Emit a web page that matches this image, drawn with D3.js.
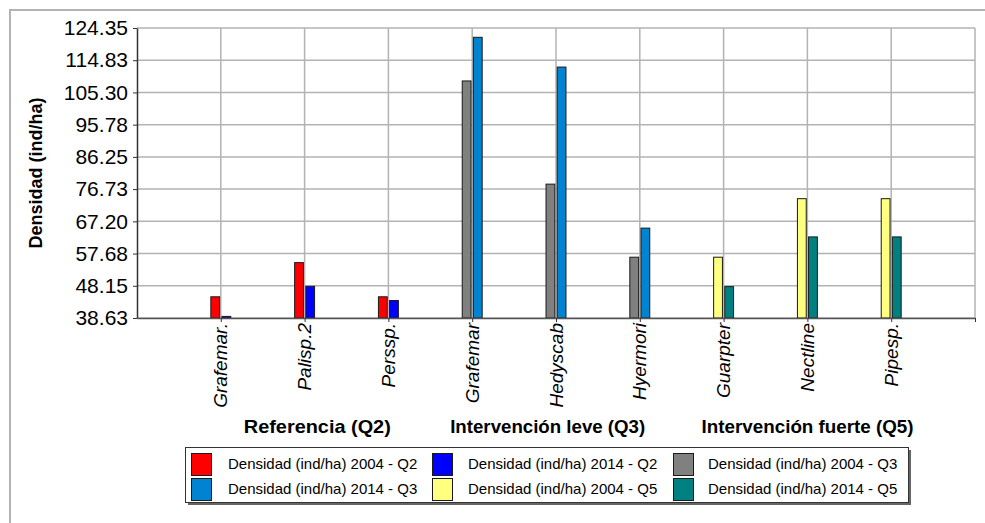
<!DOCTYPE html>
<html><head><meta charset="utf-8">
<script src="https://cdn.jsdelivr.net/npm/d3@7"></script>
<style>
html,body{margin:0;padding:0;background:#fff;}
svg{display:block;font-family:"Liberation Sans",Arial,sans-serif;}
</style></head>
<body><svg id="c" width="985" height="523"></svg>
<script>
// ---- data ----
const categories = ["Grafemar.","Palisp.2","Perssp.","Grafemar","Hedyscab","Hyermori","Guarpter","Nectline","Pipesp."];
const groupLabels = ["Referencia (Q2)","Intervención leve (Q3)","Intervención fuerte (Q5)"];
const groupStart = [1,4,7]; // first category index per group
const yTicks = [38.63,48.15,57.68,67.20,76.73,86.25,95.78,105.30,114.83,124.35];
const seriesNames = ["Densidad (ind/ha) 2004 - Q2","Densidad (ind/ha) 2014 - Q2","Densidad (ind/ha) 2004 - Q3",
                     "Densidad (ind/ha) 2014 - Q3","Densidad (ind/ha) 2004 - Q5","Densidad (ind/ha) 2014 - Q5"];
const d2004Q2 = [44.9, 55.0, 44.9, null, null, null, null, null, null];
const d2014Q2 = [39.1, 48.0, 43.8, null, null, null, null, null, null];
const d2004Q3 = [null, null, null, 108.7, 78.2, 56.6, null, null, null];
const d2014Q3 = [null, null, null, 121.6, 112.8, 65.2, null, null, null];
const d2004Q5 = [null, null, null, null, null, null, 56.6, 73.9, 73.9];
const d2014Q5 = [null, null, null, null, null, null, 47.9, 62.6, 62.6];
const seriesValues = [d2004Q2, d2014Q2, d2004Q3, d2014Q3, d2004Q5, d2014Q5];
const seriesYear = [2004, 2014, 2004, 2014, 2004, 2014];
const colors = ["#ff0000","#0000ff","#808080","#0084d1","#ffff80","#008080"];

// ---- layout ----
const svg = d3.select("#c");
const L = 137, R = 975, T = 28, B = 318;
const x = d3.scaleLinear().domain([0, 10]).range([L, R]);
const y = d3.scaleLinear().domain([yTicks[0], yTicks[yTicks.length-1]]).range([B, T]);
const step = x(1) - x(0);
const barW = step * 0.105, gap = step * 0.014;

// outer frame
svg.append("rect").attr("x",10).attr("y",10).attr("width",990).attr("height",530)
  .attr("fill","none").attr("stroke","#b3b3b3").attr("stroke-width",2);

// gridlines
const grid = svg.append("g").attr("stroke","#b3b3b3").attr("stroke-width",1.5);
yTicks.forEach(v => grid.append("line").attr("x1",L).attr("x2",R).attr("y1",y(v)).attr("y2",y(v)));
d3.range(1, 11).forEach(i => grid.append("line").attr("x1",x(i)).attr("x2",x(i)).attr("y1",T).attr("y2",B));

// bars
seriesValues.forEach((vals, si) => {
  const left = seriesYear[si] === 2004;
  svg.append("g").selectAll("rect")
    .data(vals.map((v,i)=>({v,i})).filter(d => d.v !== null))
    .join("rect")
    .attr("x", d => left ? x(d.i+1) - gap - barW : x(d.i+1) + gap)
    .attr("y", d => y(d.v))
    .attr("width", barW)
    .attr("height", d => y(yTicks[0]) - y(d.v))
    .attr("fill", colors[si])
    .attr("stroke", "#1a1a1a").attr("stroke-width", 1);
});

// y axis
const yAxis = d3.axisLeft(y).tickValues(yTicks).tickFormat(d3.format(".2f")).tickSizeInner(4).tickSizeOuter(0).tickPadding(5);
const ya = svg.append("g").attr("transform",`translate(${L},0)`).call(yAxis);
ya.select(".domain").attr("stroke","#333").attr("stroke-width",1.5);
ya.selectAll(".tick line").attr("stroke","#333");
ya.selectAll("text").attr("font-size",21).attr("fill","#000").attr("font-family","Liberation Sans, Arial, sans-serif");

// x axis
const xAxis = d3.axisBottom(x).tickValues(d3.range(1, 11)).tickFormat("").tickSizeInner(4).tickSizeOuter(0);
const xa = svg.append("g").attr("transform",`translate(0,${B})`).call(xAxis);
xa.select(".domain").attr("stroke","#555").attr("stroke-width",1.5);
xa.selectAll(".tick line").attr("stroke","#333");

// category labels
svg.append("g").selectAll("text").data(categories).join("text")
  .attr("transform",(d,i)=>`translate(${x(i+1)},${B+5}) rotate(-90)`)
  .attr("dy","0.35em")
  .attr("text-anchor","end")
  .attr("font-size",19).attr("font-style","italic").attr("fill","#000")
  .text(d=>d);

// group labels
const groupOffset = [23, -22, -22];
const groupWidth = [147, 195, 212];
svg.append("g").selectAll("text").data(groupLabels).join("text")
  .attr("x",(d,i)=>x(groupStart[i]) + groupOffset[i]).attr("y",433)
  .attr("text-anchor","start").attr("font-size",18.5).attr("font-weight","bold").attr("fill","#000")
  .attr("textLength",(d,i)=>groupWidth[i]).attr("lengthAdjust","spacingAndGlyphs")
  .text(d=>d);

// y title
svg.append("text").attr("transform",`translate(42,${(T+B)/2}) rotate(-90)`)
  .attr("text-anchor","middle").attr("font-size",18).attr("font-weight","bold").attr("fill","#000")
  .text("Densidad (ind/ha)");

// legend
const lg = svg.append("g");
lg.append("rect").attr("x",188).attr("y",450).attr("width",723).attr("height",55).attr("fill","#666");
lg.append("rect").attr("x",185.5).attr("y",447.5).attr("width",723).attr("height",55).attr("fill","#fff").attr("stroke","#333").attr("stroke-width",1);
const colX = [191, 432, 673], txtX = [228, 468, 708], rowY = [453, 478];
seriesNames.forEach((name, i) => {
  const c = i % 3, r = Math.floor(i / 3);
  lg.append("rect").attr("x",colX[c]+0.5).attr("y",rowY[r]+0.5).attr("width",20).attr("height",22)
    .attr("fill",colors[i]).attr("stroke","#1a1a1a").attr("stroke-width",1);
  lg.append("text").attr("x",txtX[c]).attr("y",rowY[r]+16).attr("font-size",15).attr("fill","#000").text(name);
});
</script></body></html>
